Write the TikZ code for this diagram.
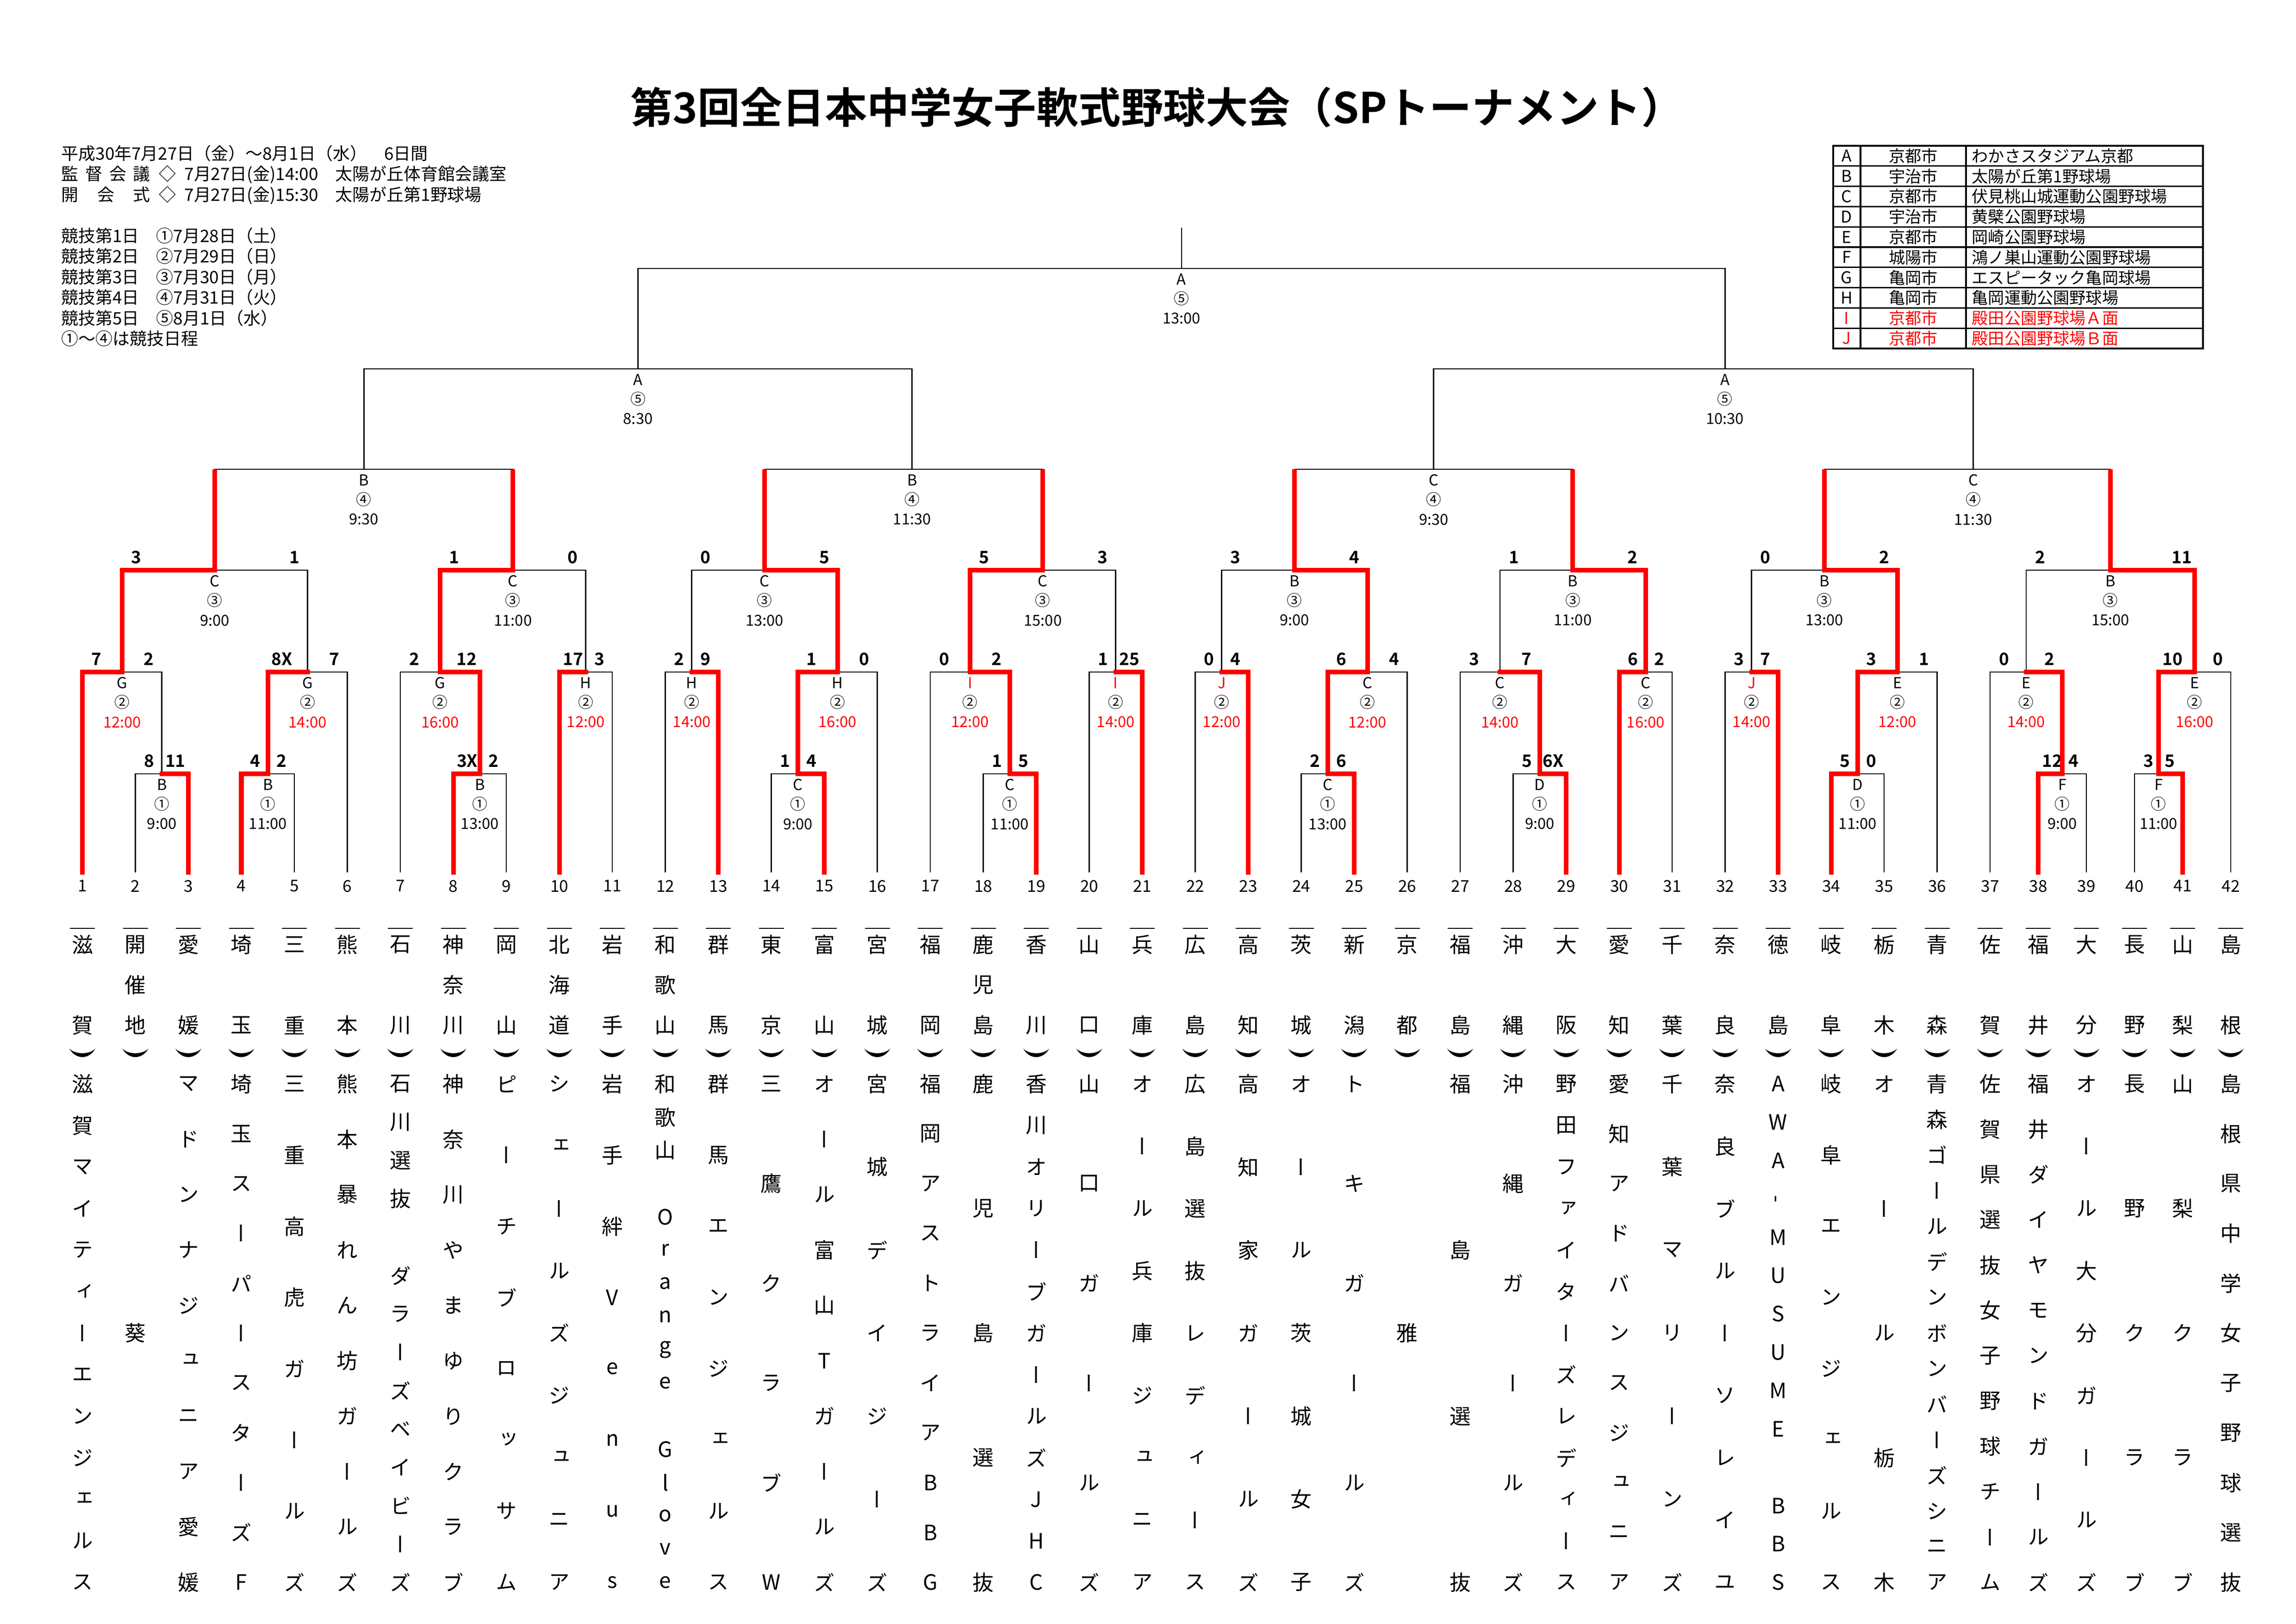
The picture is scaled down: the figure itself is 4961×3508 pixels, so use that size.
\documentclass[tikz,border=0pt]{standalone}
\usepackage{graphicx}
\usepackage{fontspec}
\setmainfont{Noto Sans CJK JP}[BoldFont={Noto Sans CJK JP Bold}]
\newfontfamily\vjp{Noto Sans CJK JP}[RawFeature=+vert]
\usetikzlibrary{calc}
\newcommand{\red}[1]{\textcolor{red}{#1}}

\begin{document}
\begin{tikzpicture}[x=0.01cm, y=-0.01cm,
    line/.style={line width=0.8pt},
    win/.style={red, line width=2.85pt, line cap=rect},
    mlabel/.style={anchor=north, align=center, inner sep=0pt, yshift=-3pt, font=\fontsize{9.3}{12}\selectfont},
    score/.style={inner sep=0pt, font=\bfseries\fontsize{10.5}{12}\selectfont},
    num/.style={anchor=north, inner sep=0pt, yshift=-0.16cm, font=\fontsize{10}{12}\selectfont},
    info/.style={anchor=north west, align=left, inner sep=0pt, font=\fontsize{10.5}{12.66}\selectfont},
    cell/.style={inner sep=0pt, font=\fontsize{10}{11}\selectfont},
    namechar/.style={inner sep=0pt, font=\vjp\fontsize{13}{14}\selectfont}]
  \useasboundingbox (0,0) rectangle (4961,3508);

  %title and notes
  \node[font=\bfseries\fontsize{26}{30}\selectfont] (title) at (2500,232) {第3回全日本中学女子軟式野球大会（SPトーナメント）};
  \node[info] (period) at (132,313) {平成30年7月27日（金）～8月1日（水）\quad 6日間\\
    \makebox[5.2em][s]{監\hfill 督\hfill 会\hfill 議}\enspace◇\enspace 7月27日(金)14:00\quad 太陽が丘体育館会議室\\
    \makebox[5.2em][s]{開\hfill 会\hfill 式}\enspace◇\enspace 7月27日(金)15:30\quad 太陽が丘第1野球場};
  \node[info] (days) at (132,491) {競技第1日　①7月28日（土）\\競技第2日　②7月29日（日）\\競技第3日　③7月30日（月）\\
    競技第4日　④7月31日（火）\\競技第5日　⑤8月1日（水）\\①～④は競技日程};

  %venue table
  \draw[line width=1.2pt] (3961,315) rectangle (4760,753);
  \foreach \r in {1,...,9} \draw[line width=0.9pt] (3961,{315+\r*43.8}) -- (4760,{315+\r*43.8});
  \draw[line width=0.9pt] (4020,315) -- (4020,753);
  \draw[line width=0.9pt] (4248,315) -- (4248,753);
  \foreach \kk/\key/\city/\site/\col in {1/A/京都市/わかさスタジアム京都/black, 2/B/宇治市/太陽が丘第1野球場/black,
      3/C/京都市/伏見桃山城運動公園野球場/black, 4/D/宇治市/黄檗公園野球場/black, 5/E/京都市/岡崎公園野球場/black,
      6/F/城陽市/鴻ノ巣山運動公園野球場/black, 7/G/亀岡市/エスピータック亀岡球場/black, 8/H/亀岡市/亀岡運動公園野球場/black,
      9/I/京都市/殿田公園野球場Ａ面/red, 10/J/京都市/殿田公園野球場Ｂ面/red}{
    \pgfmathsetmacro\ry{315+(\kk-0.5)*43.8}
    \node[cell, text=\col] (key\key) at (3990,\ry) {\key};
    \node[cell, text=\col] (city\key) at (4134,\ry) {\city};
    \node[cell, text=\col, anchor=west] (site\key) at (4260,\ry) {\site};
  }

  %teams and levels
  \foreach \i in {1,...,42}{
    \pgfmathsetmacro\tx{\i<38 ? 178+(\i-1)*114.5 : 4300+(\i-37)*104}
    \coordinate (t\i) at (\tx,1885);
    \node[num] (no\i) at (t\i) {\i};
  }
  \coordinate (R1) at (0,1672);
  \coordinate (R2) at (0,1452);
  \coordinate (R3) at (0,1232);
  \coordinate (R4) at (0,1014);
  \coordinate (R5) at (0,797);
  \coordinate (R6) at (0,580);

  %games with scores
  \foreach \gm/\ca/\cb/\lv/\scA/\scB/\txt in {
      m1/t2/t3/R1/8/11/{B\\①\\9:00}, m2/t4/t5/R1/4/2/{B\\①\\11:00}, m3/t8/t9/R1/3X/2/{B\\①\\13:00},
      m4/t14/t15/R1/1/4/{C\\①\\9:00}, m5/t18/t19/R1/1/5/{C\\①\\11:00}, m6/t24/t25/R1/2/6/{C\\①\\13:00},
      m7/t28/t29/R1/5/6X/{D\\①\\9:00}, m8/t34/t35/R1/5/0/{D\\①\\11:00}, m9/t38/t39/R1/12/4/{F\\①\\9:00},
      m10/t40/t41/R1/3/5/{F\\①\\11:00},
      n1/t1/m1/R2/7/2/{G\\②\\\red{12:00}}, n2/m2/t6/R2/8X/7/{G\\②\\\red{14:00}}, n3/t7/m3/R2/2/12/{G\\②\\\red{16:00}},
      n4/t10/t11/R2/17/3/{H\\②\\\red{12:00}}, n5/t12/t13/R2/2/9/{H\\②\\\red{14:00}}, n6/m4/t16/R2/1/0/{H\\②\\\red{16:00}},
      n7/t17/m5/R2/0/2/{\red{I}\\②\\\red{12:00}}, n8/t20/t21/R2/1/25/{\red{I}\\②\\\red{14:00}},
      n9/t22/t23/R2/0/4/{\red{J}\\②\\\red{12:00}}, n10/m6/t26/R2/6/4/{C\\②\\\red{12:00}},
      n11/t27/m7/R2/3/7/{C\\②\\\red{14:00}}, n12/t30/t31/R2/6/2/{C\\②\\\red{16:00}},
      n13/t32/t33/R2/3/7/{\red{J}\\②\\\red{14:00}}, n14/m8/t36/R2/3/1/{E\\②\\\red{12:00}},
      n15/t37/m9/R2/0/2/{E\\②\\\red{14:00}}, n16/m10/t42/R2/10/0/{E\\②\\\red{16:00}},
      q1/n1/n2/R3/3/1/{C\\③\\9:00}, q2/n3/n4/R3/1/0/{C\\③\\11:00}, q3/n5/n6/R3/0/5/{C\\③\\13:00},
      q4/n7/n8/R3/5/3/{C\\③\\15:00}, q5/n9/n10/R3/3/4/{B\\③\\9:00}, q6/n11/n12/R3/1/2/{B\\③\\11:00},
      q7/n13/n14/R3/0/2/{B\\③\\13:00}, q8/n15/n16/R3/2/11/{B\\③\\15:00}}{
    \path ($(\ca)!.5!(\cb)$) coordinate (tmp);
    \coordinate (\gm) at (tmp |- \lv);
    \draw[line] (\ca) |- (\gm);
    \draw[line] (\cb) |- (\gm);
    \node[mlabel] (\gm-l) at (\gm) {\txt};
    \node[score, xshift=0.3cm, yshift=0.28cm] (\gm-a) at (\ca |- \gm) {\scA};
    \node[score, xshift=-0.28cm, yshift=0.28cm] (\gm-b) at (\cb |- \gm) {\scB};
  }

  %later games
  \foreach \gm/\ca/\cb/\fr/\lv/\txt in {
      s1/q1/q2/.5/R4/{B\\④\\9:30}, s2/q3/q4/.53/R4/{B\\④\\11:30}, s3/q5/q6/.5/R4/{C\\④\\9:30},
      s4/q7/q8/.52/R4/{C\\④\\11:30}, h1/s1/s2/.5/R5/{A\\⑤\\8:30}, h2/s3/s4/.54/R5/{A\\⑤\\10:30},
      f/h1/h2/.5/R6/{A\\⑤\\13:00}}{
    \path ($(\ca)!\fr!(\cb)$) coordinate (tmp);
    \coordinate (\gm) at (tmp |- \lv);
    \draw[line] (\ca) |- (\gm);
    \draw[line] (\cb) |- (\gm);
    \node[mlabel] (\gm-l) at (\gm) {\txt};
  }
  \coordinate (top) at ($(f)+(0,-88)$);
  \draw[line] (f) -- (top);

  %winners
  \foreach \win/\gm in {t3/m1, t4/m2, t8/m3, t15/m4, t19/m5, t25/m6, t29/m7, t34/m8, t38/m9, t41/m10,
      t1/n1, m2/n2, m3/n3, t10/n4, t13/n5, m4/n6, m5/n7, t21/n8, t23/n9, m6/n10, m7/n11, t30/n12,
      t33/n13, m8/n14, m9/n15, m10/n16, n1/q1, n3/q2, n6/q3, n7/q4, n10/q5, n12/q6, n14/q7, n16/q8}
    \draw[win] (\win) |- (\gm);
  \foreach \win/\gm in {q1/s1, q2/s1, q3/s2, q4/s2, q5/s3, q6/s3, q7/s4, q8/s4}
    \draw[win, line cap=butt] (\win) -- (\win |- \gm);

  %team names
  \foreach \i/\pref/\nn/\tm in {
      1/{滋,,賀}/13/{滋,賀,マ,イ,テ,ィ,ー,エ,ン,ジ,ェ,ル,ス}, 2/{開,催,地}/1/{葵},
      3/{愛,,媛}/10/{マ,ド,ン,ナ,ジ,ュ,ニ,ア,愛,媛}, 4/{埼,,玉}/11/{埼,玉,ス,ー,パ,ー,ス,タ,ー,ズ,F},
      5/{三,,重}/8/{三,重,高,虎,ガ,ー,ル,ズ}, 6/{熊,,本}/10/{熊,本,暴,れ,ん,坊,ガ,ー,ル,ズ},
      7/{石,,川}/14/{石,川,選,抜,,ダ,ラ,ー,ズ,ベ,イ,ビ,ー,ズ}, 8/{神,奈,川}/10/{神,奈,川,や,ま,ゆ,り,ク,ラ,ブ},
      9/{岡,,山}/8/{ピ,ー,チ,ブ,ロ,ッ,サ,ム}, 10/{北,海,道}/9/{シ,ェ,ー,ル,ズ,ジ,ュ,ニ,ア},
      11/{岩,,手}/8/{岩,手,絆,V,e,n,u,s}, 12/{和,歌,山}/16/{和,歌,山,,O,r,a,n,g,e,,G,l,o,v,e},
      13/{群,,馬}/8/{群,馬,エ,ン,ジ,ェ,ル,ス}, 14/{東,,京}/6/{三,鷹,ク,ラ,ブ,W},
      15/{富,,山}/10/{オ,ー,ル,富,山,T,ガ,ー,ル,ズ}, 16/{宮,,城}/7/{宮,城,デ,イ,ジ,ー,ズ},
      17/{福,,岡}/11/{福,岡,ア,ス,ト,ラ,イ,ア,B,B,G}, 18/{鹿,児,島}/5/{鹿,児,島,選,抜},
      19/{香,,川}/13/{香,川,オ,リ,ー,ブ,ガ,ー,ル,ズ,J,H,C}, 20/{山,,口}/6/{山,口,ガ,ー,ル,ズ},
      21/{兵,,庫}/9/{オ,ー,ル,兵,庫,ジ,ュ,ニ,ア}, 22/{広,,島}/9/{広,島,選,抜,レ,デ,ィ,ー,ス},
      23/{高,,知}/7/{高,知,家,ガ,ー,ル,ズ}, 24/{茨,,城}/7/{オ,ー,ル,茨,城,女,子},
      25/{新,,潟}/6/{ト,キ,ガ,ー,ル,ズ}, 26/{京,,都}/1/{雅},
      27/{福,,島}/4/{福,島,選,抜}, 28/{沖,,縄}/6/{沖,縄,ガ,ー,ル,ズ},
      29/{大,,阪}/13/{野,田,フ,ァ,イ,タ,ー,ズ,レ,デ,ィ,ー,ス}, 30/{愛,,知}/11/{愛,知,ア,ド,バ,ン,ス,ジ,ュ,ニ,ア},
      31/{千,,葉}/7/{千,葉,マ,リ,ー,ン,ズ}, 32/{奈,,良}/9/{奈,良,ブ,ル,ー,ソ,レ,イ,ユ},
      33/{徳,,島}/14/{A,W,A,{\rotatebox{90}{-}},M,U,S,U,M,E,,B,B,S}, 34/{岐,,阜}/8/{岐,阜,エ,ン,ジ,ェ,ル,ス},
      35/{栃,,木}/5/{オ,ー,ル,栃,木}, 36/{青,,森}/15/{青,森,ゴ,ー,ル,デ,ン,ボ,ン,バ,ー,ズ,シ,ニ,ア},
      37/{佐,,賀}/12/{佐,賀,県,選,抜,女,子,野,球,チ,ー,ム}, 38/{福,,井}/12/{福,井,ダ,イ,ヤ,モ,ン,ド,ガ,ー,ル,ズ},
      39/{大,,分}/9/{オ,ー,ル,大,分,ガ,ー,ル,ズ}, 40/{長,,野}/5/{長,野,ク,ラ,ブ},
      41/{山,,梨}/5/{山,梨,ク,ラ,ブ}, 42/{島,,根}/11/{島,根,県,中,学,女,子,野,球,選,抜}}{
    \pgfmathsetmacro\tx{\i<38 ? 178+(\i-1)*114.5 : 4300+(\i-37)*104}
    \draw[line width=0.6pt] ({\tx-27},2006) -- ({\tx+27},2006);
    \foreach \ch [count=\kk] in \pref {\node[namechar] (pf\i-\kk) at (\tx,{2041+(\kk-1)*87}) {\ch};}
    \fill ({\tx-28},2266) .. controls ({\tx-14},2290) and ({\tx+14},2290) .. ({\tx+28},2266)
      .. controls ({\tx+14},2279) and ({\tx-14},2279) .. cycle;
    \foreach \ch [count=\kk] in \tm {
      \pgfmathsetmacro\ny{\nn==1 ? 2880 : 2342+(\kk-1)*1077/max(\nn-1,1)}
      \node[namechar] (nm\i-\kk) at (\tx,\ny) {\ch};
    }
  }
\end{tikzpicture}
\end{document}
